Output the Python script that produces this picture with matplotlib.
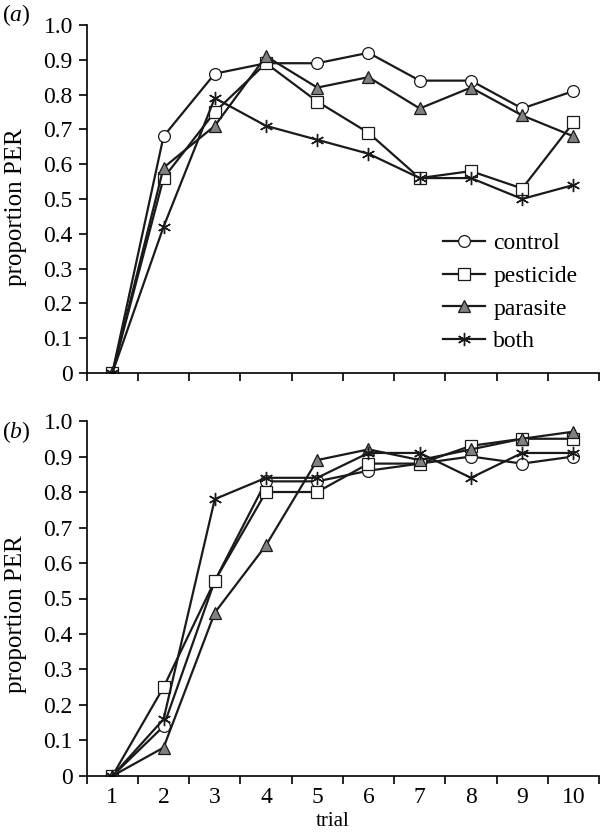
import matplotlib
matplotlib.use("Agg")
import matplotlib.pyplot as plt
import numpy as np

plt.rcParams['font.family'] = ['Liberation Serif', 'DejaVu Serif']
plt.rcParams['mathtext.fontset'] = 'custom'
plt.rcParams['mathtext.it'] = 'Liberation Serif:italic'
plt.rcParams['mathtext.rm'] = 'Liberation Serif'

trials = np.arange(1, 11)
tick_labels = ['1', '2', '3', '4', '5', '6', '7', '8', '9', '10']
groups = ['control', 'pesticide', 'parasite', 'both']

# panel (a)
a_control = [0, 0.68, 0.86, 0.89, 0.89, 0.92, 0.84, 0.84, 0.76, 0.81]
a_pesticide = [0, 0.56, 0.75, 0.89, 0.78, 0.69, 0.56, 0.58, 0.53, 0.72]
a_parasite = [0, 0.59, 0.71, 0.91, 0.82, 0.85, 0.76, 0.82, 0.74, 0.68]
a_both = [0, 0.42, 0.79, 0.71, 0.67, 0.63, 0.56, 0.56, 0.50, 0.54]

# panel (b)
b_control = [0, 0.14, 0.55, 0.83, 0.83, 0.86, 0.88, 0.90, 0.88, 0.90]
b_pesticide = [0, 0.25, 0.55, 0.80, 0.80, 0.88, 0.88, 0.93, 0.95, 0.95]
b_parasite = [0, 0.08, 0.46, 0.65, 0.89, 0.92, 0.89, 0.92, 0.95, 0.97]
b_both = [0, 0.16, 0.78, 0.84, 0.84, 0.91, 0.91, 0.84, 0.91, 0.91]

styles = {
    'control': dict(marker='o', mfc='white', ms=8.5),
    'pesticide': dict(marker='s', mfc='white', ms=8.5),
    'parasite': dict(marker='^', mfc='#808080', ms=9),
    'both': dict(marker=(6, 2, 0), mfc='none', ms=9.5, mew=1.0),
}

FS = 17

fig = plt.figure(figsize=(6.03, 8.4), dpi=100)
ax_a = fig.add_axes([0.1438, 0.556, 0.8496, 0.4143])
ax_b = fig.add_axes([0.1438, 0.0762, 0.8496, 0.4226])


def draw(ax, data):
    for name, vals in zip(groups, data):
        st = dict(styles[name])
        mew = st.pop('mew', 0.9)
        ax.plot(trials, vals, color='#1a1a1a', lw=1.6, mec='#1a1a1a',
                mew=mew, label=name, **st)
    ax.set_xlim(0.5, 10.5)
    ax.set_ylim(0, 1.0)
    ax.set_yticks(np.arange(0, 1.01, 0.1))
    ax.set_yticklabels(['0'] + ['%.1f' % v for v in np.arange(0.1, 1.01, 0.1)])
    ax.set_xticks(np.arange(0.5, 10.6, 1))
    ax.set_xticks(trials, minor=True)
    ax.tick_params(axis='x', which='minor', length=0)
    ax.tick_params(which='major', length=6, width=1.2, direction='out', labelsize=FS, pad=4)
    ax.tick_params(axis='x', which='major', labelbottom=False)
    for s in ['top', 'right']:
        ax.spines[s].set_visible(False)
    for s in ['left', 'bottom']:
        ax.spines[s].set_linewidth(1.2)
    ax.set_ylabel('proportion PER', fontsize=18)
    ax.yaxis.label.set_va('center')


draw(ax_a, [a_control, a_pesticide, a_parasite, a_both])
draw(ax_b, [b_control, b_pesticide, b_parasite, b_both])
ax_a.yaxis.set_label_coords(-0.138, 0.477)
ax_b.yaxis.set_label_coords(-0.138, 0.456)

ax_b.set_xticklabels(tick_labels, minor=True, fontsize=FS)
ax_b.tick_params(axis='x', which='minor', pad=8)
ax_b.set_xlabel('trial', fontsize=15)
ax_b.xaxis.set_label_coords(0.48, -0.101)

ax_a.legend(loc='upper left', bbox_to_anchor=(0.734, 0.7227), bbox_transform=fig.transFigure,
            frameon=False, fontsize=FS, handlelength=1.8, handletextpad=0.35,
            labelspacing=0.47, borderaxespad=0, borderpad=0)

fig.text(0.003, 0.982, r'($\mathit{a}$)', fontsize=FS, va='center', ha='left')
fig.text(0.003, 0.486, r'($\mathit{b}$)', fontsize=FS, va='center', ha='left')

fig.savefig('out.png', dpi=100)
